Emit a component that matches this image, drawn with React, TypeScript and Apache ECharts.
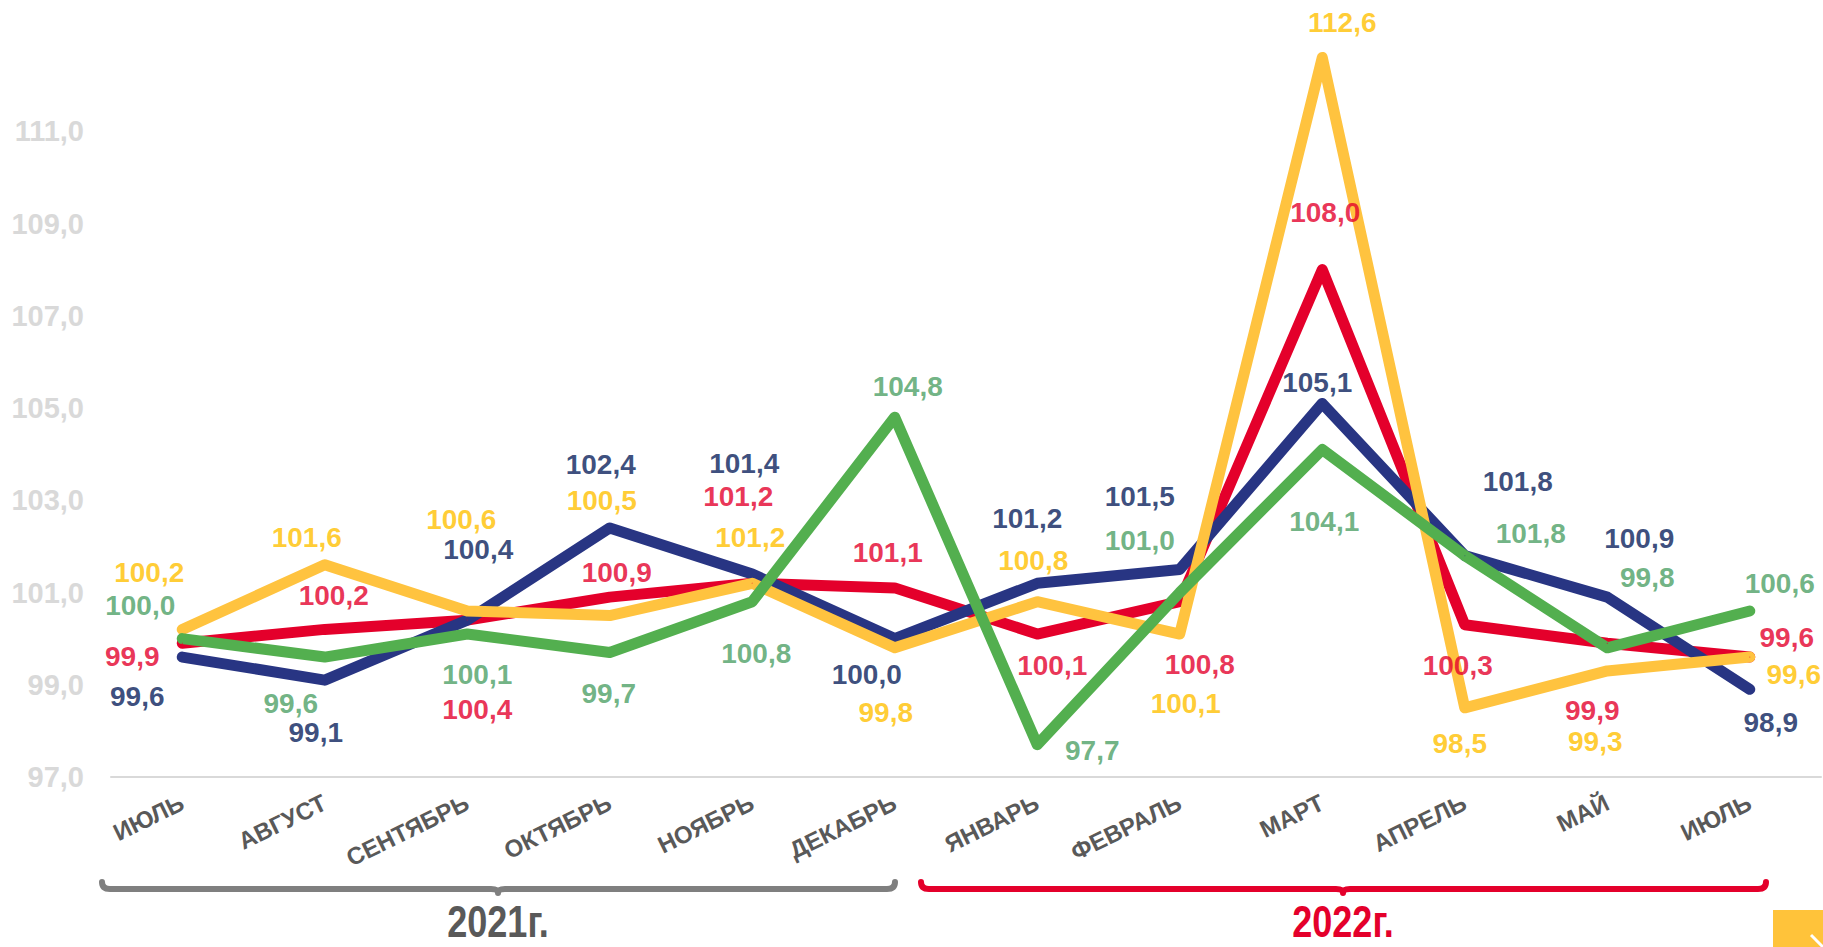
import React, { useEffect, useRef } from "react";
import * as echarts from "echarts";

const months = ["ИЮЛЬ", "АВГУСТ", "СЕНТЯБРЬ", "ОКТЯБРЬ", "НОЯБРЬ", "ДЕКАБРЬ", "ЯНВАРЬ", "ФЕВРАЛЬ", "МАРТ", "АПРЕЛЬ", "МАЙ", "ИЮЛЬ"];
const navyValues = [99.6, 99.1, 100.4, 102.4, 101.4, 100.0, 101.2, 101.5, 105.1, 101.8, 100.9, 98.9];
const redValues = [99.9, 100.2, 100.4, 100.9, 101.2, 101.1, 100.1, 100.8, 108.0, 100.3, 99.9, 99.6];
const yellowValues = [100.2, 101.6, 100.6, 100.5, 101.2, 99.8, 100.8, 100.1, 112.6, 98.5, 99.3, 99.6];
const greenValues = [100.0, 99.6, 100.1, 99.7, 100.8, 104.8, 97.7, 101.0, 104.1, 101.8, 99.8, 100.6];
const yearLabels = ["2021г.", "2022г."];

// label offsets (pixels) relative to each point
const navyOffsets = [[-45, 39], [-9, 52], [11, -71], [-9, -63], [-8, -111], [-28, 36], [-10, -65], [-40, -73], [-5, -21], [53, -74], [32, -59], [21, 33]];
const redOffsets = [[-50, 13], [9, -34], [10, 89], [7, -25], [-14, -87], [-7, -35], [15, 31], [20, 63], [3, -57], [-7, 41], [-15, 67], [37, -20]];
const yellowOffsets = [[-33, -57], [-18, -27], [-6, -91], [-8, -115], [-2, -46], [-9, 65], [-4, -41], [6, 69], [20, -35], [-5, 36], [-12, 71], [44, 17]];
const greenOffsets = [[-42, -33], [-34, 46], [10, 40], [-1, 41], [4, 52], [13, -31], [55, 6], [-40, -52], [2, 72], [66, -22], [40, -70], [30, -27]];

const FONT = "'Liberation Sans', Arial, sans-serif";
const fmt = (v: number) => v.toFixed(1).replace(".", ",");

function bracePath(x0: number, x1: number, xc: number, y: number) {
  return `M ${x0} ${y - 7} Q ${x0} ${y} ${x0 + 8} ${y} L ${xc - 7} ${y} Q ${xc} ${y} ${xc} ${y + 4} Q ${xc} ${y} ${xc + 7} ${y} L ${x1 - 8} ${y} Q ${x1} ${y} ${x1} ${y - 7}`;
}

let registered = false;
function registerBraces() {
  if (registered) return;
  registered = true;
  echarts.graphic.registerShape("brace2021", echarts.graphic.extendPath(bracePath(102, 895, 498, 889), {}));
  echarts.graphic.registerShape("brace2022", echarts.graphic.extendPath(bracePath(921, 1766, 1343, 889), {}));
}

export default function App() {
  const ref = useRef<HTMLDivElement>(null);
  useEffect(() => {
    if (!ref.current) return;
    registerBraces();
    const chart = echarts.init(ref.current, undefined, { renderer: "svg" });

    const lineSeries = (name: string, values: number[], color: string) => ({
      name,
      type: "line",
      data: values,
      symbol: "circle",
      symbolSize: 1,
      itemStyle: { color },
      lineStyle: { color, width: 11, cap: "round", join: "round" },
      label: { show: false },
      z: 2,
    });
    const labelSeries = (name: string, values: number[], offsets: number[][], color: string) => ({
      name: name + "-labels",
      type: "scatter",
      symbolSize: 1,
      itemStyle: { color: "rgba(0,0,0,0)" },
      z: 10,
      data: values.map((v, i) => ({
        value: v,
        label: { offset: offsets[i] },
      })),
      label: {
        show: true,
        position: "inside",
        color,
        fontFamily: FONT,
        fontWeight: "bold",
        fontSize: 28,
        formatter: (p: any) => fmt(p.value),
      },
    });

    const yearText = (x: number, text: string, fill: string) => ({
      type: "text",
      x,
      y: 922,
      scaleX: 0.82,
      style: {
        text,
        fill,
        font: `bold 44px ${FONT}`,
        textAlign: "center",
        textVerticalAlign: "middle",
        align: "center",
        verticalAlign: "middle",
      },
    });

    chart.setOption({
      animation: false,
      backgroundColor: "#ffffff",
      grid: { left: 111, right: 2, top: 39, bottom: 170 },
      xAxis: {
        type: "category",
        data: months,
        boundaryGap: true,
        axisLine: { show: true, lineStyle: { color: "#D9D9D9", width: 2 } },
        axisTick: { show: false },
        axisLabel: {
          interval: 0,
          rotate: 26,
          margin: 24,
          color: "#595959",
          fontFamily: FONT,
          fontWeight: "bold",
          fontSize: 24,
        },
        splitLine: { show: false },
      },
      yAxis: {
        type: "value",
        min: 97,
        max: 113,
        interval: 2,
        axisLine: { show: false },
        axisTick: { show: false },
        splitLine: { show: false },
        axisLabel: {
          margin: 27,
          color: "#D9D9D9",
          fontFamily: FONT,
          fontWeight: "bold",
          fontSize: 29,
          formatter: (v: number) => (v >= 113 ? "" : fmt(v)),
        },
      },
      series: [
        lineSeries("red", redValues, "#E4002B"),
        lineSeries("navy", navyValues, "#283583"),
        lineSeries("yellow", yellowValues, "#FFC33F"),
        lineSeries("green", greenValues, "#53AF4F"),
        labelSeries("red", redValues, redOffsets, "#E4002B"),
        labelSeries("navy", navyValues, navyOffsets, "#0A1F5C"),
        labelSeries("yellow", yellowValues, yellowOffsets, "#FFC000"),
        labelSeries("green", greenValues, greenOffsets, "#4C9F65"),
      ],
      graphic: [
        {
          type: "brace2021",
          style: { stroke: "#7F7F7F", lineWidth: 6, fill: null, lineCap: "round", lineJoin: "round" },
        },
        {
          type: "brace2022",
          style: { stroke: "#E4002B", lineWidth: 6, fill: null, lineCap: "round", lineJoin: "round" },
        },
        yearText(498, yearLabels[0], "#595959"),
        yearText(1343, yearLabels[1], "#E4002B"),
        {
          type: "rect",
          shape: { x: 1773, y: 910, width: 50, height: 37 },
          style: { fill: "#FFC33A" },
        },
        {
          type: "line",
          shape: { x1: 1811, y1: 935, x2: 1823, y2: 947 },
          style: { stroke: "#ffffff", lineWidth: 3 },
        },
      ],
    });
    return () => chart.dispose();
  }, []);
  return <div ref={ref} style={{ position: "absolute", left: 0, top: 0, width: 1823, height: 947 }} />;
}
